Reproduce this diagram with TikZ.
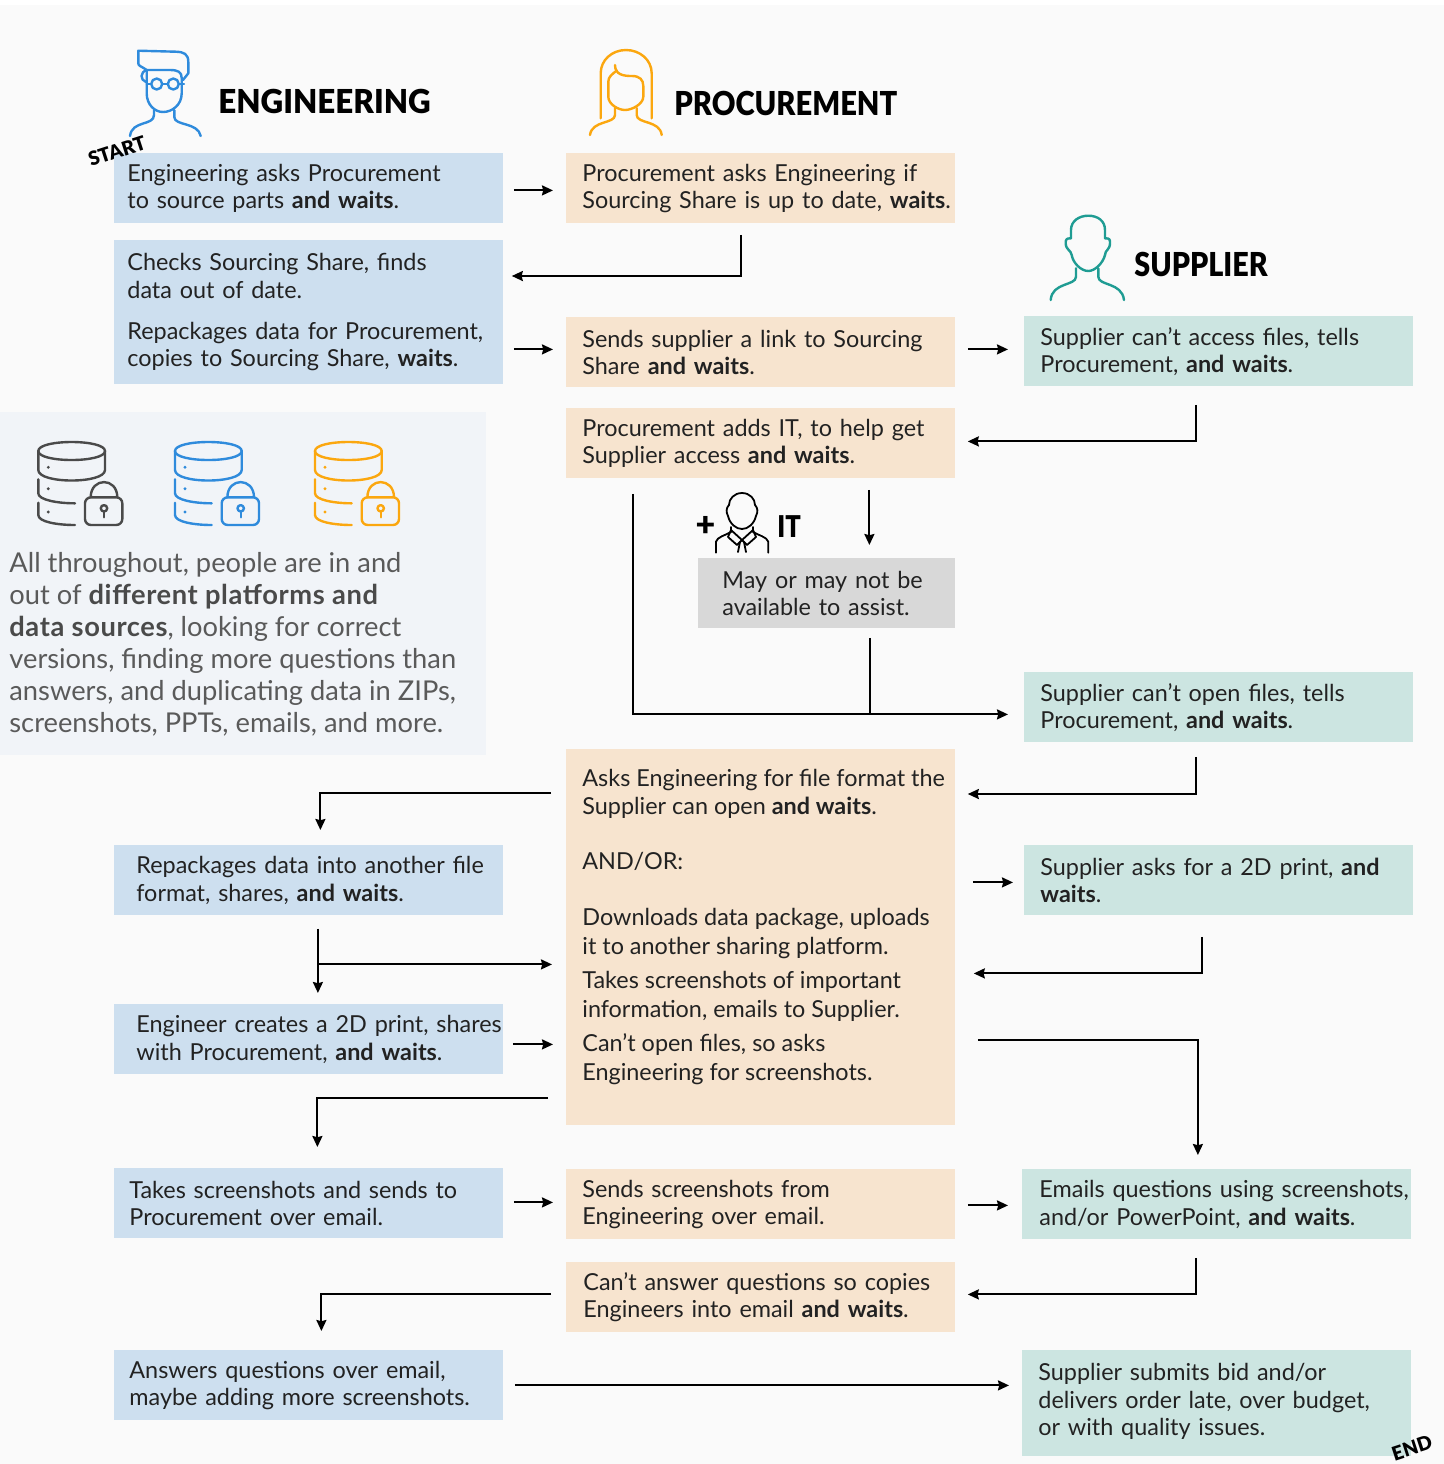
\documentclass[tikz,border=0pt]{standalone}
\usepackage{fontspec}
\setmainfont{Lato}
\newfontfamily\headfont{Lato Black}
\usetikzlibrary{arrows.meta,calc}
\definecolor{engfill}{HTML}{CDDFEF}
\definecolor{procfill}{HTML}{F7E4CF}
\definecolor{supfill}{HTML}{CCE5E1}
\definecolor{itfill}{HTML}{D8D8D8}
\definecolor{panelfill}{HTML}{F1F4F8}
\definecolor{pagefill}{HTML}{FAFAFA}
\definecolor{engline}{HTML}{2F8BDC}
\definecolor{procline}{HTML}{FBA70F}
\definecolor{supline}{HTML}{1F9C93}
\definecolor{greyline}{HTML}{4A4A4A}
\definecolor{inktext}{HTML}{222222}
\definecolor{notetext}{HTML}{5A5A5A}
\tikzset{
  stepbox/.style={anchor=north west,inner sep=0pt,minimum width=194.5pt,minimum height=35pt,
    text width=194.5pt,align=left,text=inktext,font=\fontsize{11.7}{13.75}\selectfont,
    execute at begin node={\leftskip=#1}},
  engbox/.style={stepbox=#1,fill=engfill},
  procbox/.style={stepbox=#1,fill=procfill},
  supbox/.style={stepbox=#1,fill=supfill},
  flow/.style={line width=1pt,-{Stealth[length=5.5pt,width=5pt,inset=0.6pt]}},
  bare/.style={line width=1pt},
  icon/.style={line width=1.2pt,line cap=round,line join=round},
  headtext/.style={anchor=west,inner sep=0pt,font=\fontsize{16.5}{20}\headfont},
  tagtext/.style={inner sep=0pt,font=\fontsize{9.7}{12}\headfont}
}
\begin{document}
\begin{tikzpicture}[x=0.5pt,y=-0.5pt]
\useasboundingbox (0,0) rectangle (1444,1464);
\fill [pagefill] (0,5) rectangle (1444,1464);

% left note
\node [anchor=north west,inner sep=0pt,fill=panelfill,minimum width=243pt,minimum height=171.5pt] (panel) at (0,412) {};
\foreach \dx/\col in {0/greyline,136.7/engline,276.7/procline} {
\begin{scope}[xshift=\dx*0.5pt,icon,draw=\col]
\draw (38.3,451) .. controls (38.3,439) and (105,439) .. (105,451) .. controls (105,463) and (38.3,463) .. (38.3,451);
\draw (38.3,451) -- (38.3,470) .. controls (38.3,484) and (105,484) .. (105,470) -- (105,451);
\draw (38.3,479.3) -- (38.3,493.3) .. controls (38.3,500) and (58,503.3) .. (75,503.3);
\draw (38.3,502.7) -- (38.3,515) .. controls (38.3,522) and (58,525) .. (75,525);
\fill [\col] (48.3,467.3) circle (1.6) (48.3,488.7) circle (1.6) (48.3,512) circle (1.6);
\draw [rounded corners=3pt] (85,497.3) rectangle (122.3,525);
\draw (90.7,497.3) .. controls (90.7,477) and (117.3,477) .. (117.3,497.3);
\draw (104,508.3) circle (3.2);
\draw (104,511.5) -- (104,517.3);
\end{scope}
}
\node [anchor=north west,inner sep=0pt,align=left,text=notetext,font=\fontsize{13.65}{16}\selectfont] (note) at (9,552) {All throughout, people are in and\\out of {\bfseries\addfontfeature{LetterSpace=2.2}\color{greyline}different platforms and}\\{\bfseries\addfontfeature{LetterSpace=2.2}\color{greyline}data sources}, looking for correct\\versions, finding more questions than\\answers, and duplicating data in ZIPs,\\screenshots, PPTs, emails, and more.};

% engineering icon
\begin{scope}[icon,draw=engline]
\draw (146.7,70) .. controls (141,66) and (138.3,66) .. (138.3,63.3) -- (138.3,50.7) -- (176,51.7) .. controls (184,52) and (188.3,54) .. (188.3,62) -- (188.3,73.3) -- (183,80);
\draw (146.7,70) -- (170,70) .. controls (178,70) and (181.7,72) .. (181.7,78) -- (181.7,93.3) .. controls (181.7,105) and (172,112) .. (163,112) .. controls (155,112) and (146.7,105) .. (146.7,93.3) -- (146.7,78) .. controls (146.7,72) and (146.7,72) .. (146.7,70);
\draw (146.7,70) .. controls (140,72) and (140,80) .. (146,82);
\draw (156.7,84) circle (5.5) (173.3,84) circle (5.5);
\draw (162.2,84) -- (167.8,84) (146.7,84) -- (151.2,84) (178.8,84) -- (184,84);
\draw (154,110) -- (154,115) .. controls (154,126) and (132,120) .. (130,136);
\draw (174.3,110) -- (174.3,117) .. controls (174.3,126) and (198,122) .. (200.7,136);
\end{scope}

% procurement icon
\begin{scope}[icon,draw=procline]
\draw (600.7,118.3) -- (600.7,73.3) .. controls (600.7,60) and (612,50) .. (626,50) .. controls (640,50) and (651.7,60) .. (651.7,73.3) -- (651.7,118.3);
\draw (615,65) .. controls (615,75) and (624,76) .. (632,76) .. controls (640,76) and (643.3,80) .. (643.3,86) -- (643.3,96.7) .. controls (643.3,104) and (632,110) .. (625,110) .. controls (618,110) and (608.3,104) .. (608.3,96.7) -- (608.3,81.7) .. controls (608.3,77) and (612,74) .. (617,70.5);
\draw (615,108) -- (615,115) .. controls (615,124) and (592,120) .. (590,135);
\draw (636.7,108) -- (636.7,115) .. controls (636.7,124) and (660,120) .. (661.7,135);
\end{scope}

% supplier icon
\begin{scope}[icon,draw=supline]
\draw (1088.3,215.7) .. controls (1098,215.7) and (1105,221) .. (1105,230) -- (1105,238.3) .. controls (1110,238) and (1110,240) .. (1110,243) .. controls (1110,250) and (1105,250) .. (1105,255) .. controls (1103,263) and (1095,271) .. (1088.3,271) .. controls (1081,271) and (1073,263) .. (1071.7,255) .. controls (1071,250) and (1065.7,250) .. (1065.7,243) .. controls (1065.7,240) and (1066,238) .. (1071,238.3) -- (1071,230) .. controls (1071,221) and (1079,215.7) .. (1088.3,215.7);
\draw (1076,268.3) -- (1076,276.7) .. controls (1076,286) and (1052,282) .. (1050.7,300);
\draw (1098.3,268.3) -- (1098.3,276.7) .. controls (1098.3,286) and (1122,282) .. (1124,300);
\end{scope}

% headings
\node [headtext] (enghead) at (218,101) {\scalebox{0.95}[1]{ENGINEERING}};
\node [headtext] (prochead) at (674,103) {\scalebox{0.883}[1]{PROCUREMENT}};
\node [headtext] (suphead) at (1134,264) {\scalebox{0.87}[1]{SUPPLIER}};

% engineering column
\node [engbox=6.5pt] (eng1) at (114,153) {Engineering asks Procurement\\to source parts {\bfseries and waits}.};
\node [engbox=6.5pt,minimum height=72pt] (eng2) at (114,240) {Checks Sourcing Share, finds\\data out of date.\\[6.75pt]Repackages data for Procurement,\\copies to Sourcing Share, {\bfseries waits}.};
\node [engbox=11pt] (eng3) at (114,845) {Repackages data into another file\\format, shares, {\bfseries and waits}.};
\node [engbox=11pt] (eng4) at (114,1004) {Engineer creates a 2D print, shares\\with Procurement, {\bfseries and waits}.};
\node [engbox=7.5pt] (eng5) at (114,1168) {Takes screenshots and sends to\\Procurement over email.};
\node [engbox=7.5pt] (eng6) at (114,1350) {Answers questions over email,\\maybe adding more screenshots.};

% procurement column
\node [procbox=8pt] (proc1) at (566,153) {Procurement asks Engineering if\\Sourcing Share is up to date, {\bfseries waits}.};
\node [procbox=8pt] (proc2) at (566,317) {Sends supplier a link to Sourcing\\Share {\bfseries and waits}.};
\node [procbox=8pt] (proc3) at (566,408) {Procurement adds IT, to help get\\Supplier access {\bfseries and waits}.};
\node [procbox=8pt,minimum height=188pt] (proc4) at (566,749) {};
\node [anchor=north west,inner sep=0pt,align=left,text=inktext,font=\fontsize{11.7}{13.75}\selectfont] (proc4txt) at (582,769) {Asks Engineering for file format the\\Supplier can open {\bfseries and waits}.\\[14pt]AND/OR:\\[14pt]Downloads data package, uploads\\[0.7pt]it to another sharing platform.\\[3.5pt]Takes screenshots of important\\[0.7pt]information, emails to Supplier.\\[3.5pt]Can't open files, so asks\\[0.4pt]Engineering for screenshots.};
\node [procbox=8pt] (proc5) at (566,1169) {Sends screenshots from\\Engineering over email.};
\node [procbox=8.5pt] (proc6) at (566,1262) {Can't answer questions so copies\\Engineers into email {\bfseries and waits}.};

% IT
\node [stepbox=12pt,fill=itfill,minimum width=128.5pt,text width=128.5pt] (itbox) at (698,558) {May or may not be\\available to assist.};
\node [inner sep=0pt,font=\fontsize{17}{20}\headfont] (itplus) at (705.5,526) {+};
\node [anchor=west,inner sep=0pt,font=\fontsize{15}{18}\headfont] (ithead) at (777,527) {\scalebox{0.85}[1]{IT}};
\begin{scope}[line width=0.9pt,line cap=round,line join=round,draw=black]
\draw (742,493) .. controls (750,493) and (755,499) .. (755,505) .. controls (758,508) and (758,512) .. (756,516) .. controls (754,524) and (748,529) .. (742,529) .. controls (736,529) and (730,524) .. (728,516) .. controls (726,512) and (726,508) .. (729,505) .. controls (729,499) and (734,493) .. (742,493);
\draw (716,552.7) -- (716,541.7) .. controls (717,537) and (726,535) .. (731,532) -- (731,527);
\draw (768.3,552.7) -- (768.3,541.7) .. controls (767,537) and (758,535) .. (753,532) -- (753,527);
\draw (731,530) -- (742,540) -- (753,530) (731,530) -- (728,537) -- (737,545) -- (742,540) -- (747,545) -- (756,537) -- (753,530);
\draw (738,552) -- (740,542) (746,552) -- (744,542);
\end{scope}

% supplier column
\node [supbox=8pt] (sup1) at (1024,316) {Supplier can't access files, tells\\Procurement, {\bfseries and waits}.};
\node [supbox=8pt] (sup2) at (1024,672) {Supplier can't open files, tells\\Procurement, {\bfseries and waits}.};
\node [supbox=8pt] (sup3) at (1024,845) {Supplier asks for a 2D print, {\bfseries and}\\{\bfseries waits}.};
\node [supbox=8.5pt] (sup4) at (1022,1169) {Emails questions using screenshots,\\and/or PowerPoint, {\bfseries and waits}.};
\node [supbox=8pt,minimum height=53pt] (sup5) at (1022,1350) {Supplier submits bid and/or\\delivers order late, over budget,\\or with quality issues.\par\vspace{2pt}};

% start and end tags
\node [tagtext,rotate=18] (starttag) at (117,151) {START};
\node [tagtext,rotate=18] (endtag) at (1412,1448) {END};

% connectors
\draw [flow] ($(eng1.east)+(10,2)$) -- ($(proc1.west)+(-13,2)$);
\draw [flow] ($(proc1.south)+(-20,11)$) |- ($(eng2.north east)+(8,36)$);
\draw [flow] ($(eng2.east |- proc2.west)+(10,-3)$) -- ($(proc2.west)+(-13,-3)$);
\draw [flow] ($(proc2.east)+(12,-3)$) -- ($(sup1.west)+(-16,-2)$);
\draw [flow] ($(sup1.south)+(-23,18)$) |- ($(proc3.east)+(12,-2)$);
\draw [flow] ($(proc3.south)+(108.5,11)$) -- ($(itbox.north)+(42.5,-13)$);
\draw [flow] ($(proc3.south west)+(67,15)$) |- ($(sup2.west)+(-16,7)$);
\draw [bare] ($(itbox.south)+(43.5,9)$) -- ($(itbox.south)+(43.5,86)$);
\draw [flow] ($(sup2.south)+(-23,14)$) |- ($(proc4.north east)+(12,45)$);
\draw [flow] ($(proc4.north west)+(-15,44)$) -| ($(eng3.north)+(11.5,-15)$);
\draw [flow] ($(proc4.east)+(17,-55)$) -- ($(sup3.west)+(-11,2)$);
\draw [flow] ($(sup3.south)+(-17,21)$) |- ($(proc4.east)+(18,36)$);
\draw [flow] ($(eng3.south)+(9,13)$) |- ($(proc4.west)+(-14,27)$);
\draw [flow] ($(eng3.south)+(9,13)$) -- ($(eng4.north)+(9,-11)$);
\draw [flow] ($(eng4.east)+(9,5)$) -- ($(proc4.west)+(-13,107)$);
\draw [flow] ($(proc4.west)+(-18,161)$) -| ($(eng5.north)+(8.5,-21)$);
\draw [flow] ($(proc4.east)+(22,103)$) -| ($(sup4.north)+(-19,-14)$);
\draw [flow] ($(eng5.east)+(10,-1)$) -- ($(proc5.west)+(-13,-2)$);
\draw [flow] ($(proc5.east)+(12,1)$) -- ($(sup4.west)+(-14,1)$);
\draw [flow] ($(sup4.south)+(-21,18)$) |- ($(proc6.east)+(12,-3)$);
\draw [flow] ($(proc6.west)+(-15,-3)$) -| ($(eng6.north)+(12.5,-19)$);
\draw [flow] ($(eng6.east)+(11,0)$) -- ($(sup5.west)+(-13,-18)$);
\end{tikzpicture}
\end{document}
